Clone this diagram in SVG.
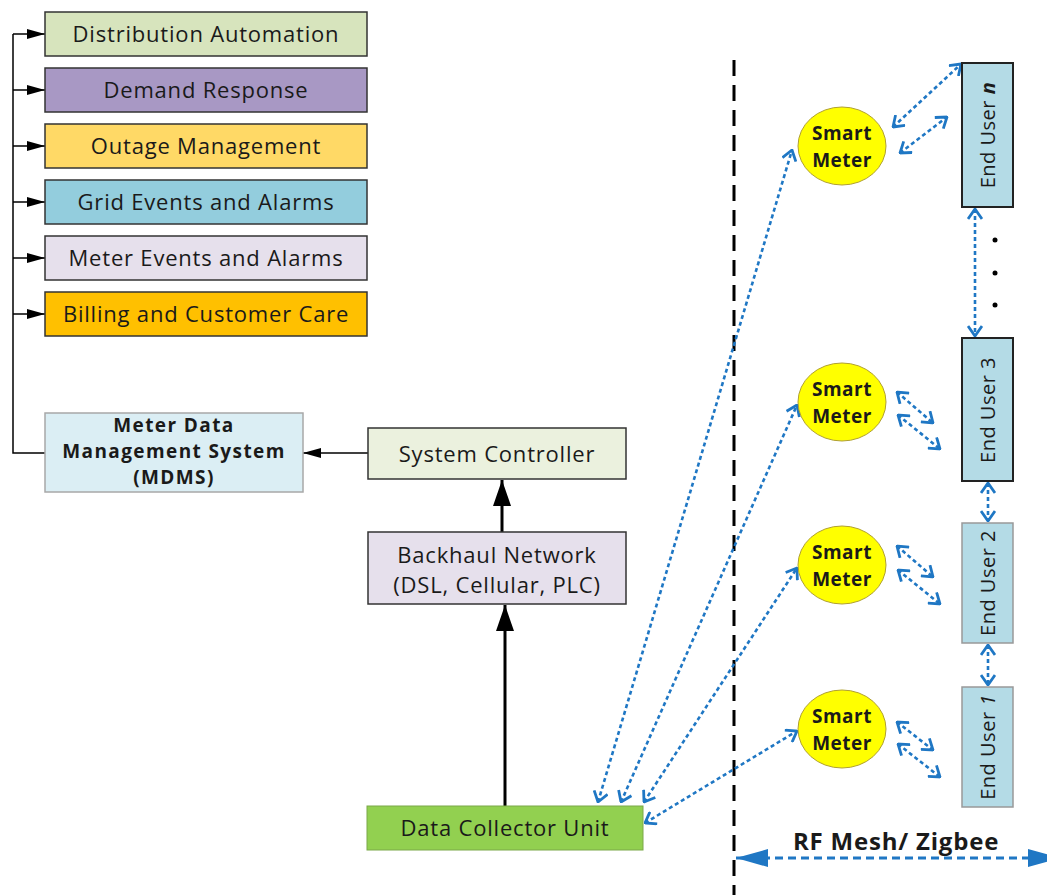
<svg xmlns="http://www.w3.org/2000/svg" width="1047" height="895" viewBox="0 0 1047 895">
<style>
text{font-family:"Open Sans","Liberation Sans",sans-serif;fill:#1a1a1a}
.lbl{font-size:22px;letter-spacing:0.8px;text-anchor:middle}
.mdt{font-size:19px;font-weight:bold;letter-spacing:1.4px;text-anchor:middle}
.smt{font-size:19px;font-weight:bold;letter-spacing:0.5px;text-anchor:middle}
.eut{font-size:20px;letter-spacing:0.5px;text-anchor:middle}
.bold{font-weight:bold}
.box{stroke:#333;stroke-width:1.5}
.conn{fill:none;stroke:#000;stroke-width:1.5}
.thick{fill:none;stroke:#000;stroke-width:3}
.rf{fill:none;stroke:#1f77c4;stroke-width:2.6;stroke-dasharray:4 3}
.sm{fill:#ffff00;stroke:#b0a030;stroke-width:1}
.eu{fill:#b4dbe6}
</style>
<defs>
<marker id="tri" viewBox="0 0 18 10" refX="18" refY="5" markerWidth="18" markerHeight="10" markerUnits="userSpaceOnUse" orient="auto">
<path d="M0,0 L18,5 L0,10 z" fill="#000"/>
</marker>
<marker id="tri2" viewBox="0 0 26 18" refX="26" refY="9" markerWidth="26" markerHeight="18" markerUnits="userSpaceOnUse" orient="auto">
<path d="M0,0 L26,9 L0,18 z" fill="#000"/>
</marker>
<marker id="chev" viewBox="0 0 12 16" refX="11" refY="8" markerWidth="12" markerHeight="16" markerUnits="userSpaceOnUse" orient="auto-start-reverse">
<path d="M1,1 L11,8 L1,15" fill="none" stroke="#1f77c4" stroke-width="2.8" stroke-dasharray="none"/>
</marker>
<marker id="btri" viewBox="0 0 32 18" refX="32" refY="9" markerWidth="32" markerHeight="18" markerUnits="userSpaceOnUse" orient="auto-start-reverse">
<path d="M0,0 L32,9 L0,18 z" fill="#1f77c4" stroke="none"/>
</marker>
</defs>

<g id="connectors">
<path class="conn" d="M45,453 H13 V34"/>
<line class="conn" x1="13" y1="34" x2="45" y2="34" marker-end="url(#tri)"/>
<line class="conn" x1="13" y1="90" x2="45" y2="90" marker-end="url(#tri)"/>
<line class="conn" x1="13" y1="146" x2="45" y2="146" marker-end="url(#tri)"/>
<line class="conn" x1="13" y1="202" x2="45" y2="202" marker-end="url(#tri)"/>
<line class="conn" x1="13" y1="258" x2="45" y2="258" marker-end="url(#tri)"/>
<line class="conn" x1="13" y1="314" x2="45" y2="314" marker-end="url(#tri)"/>
<line class="conn" x1="368" y1="453" x2="303" y2="453" marker-end="url(#tri)"/>
<line class="thick" x1="502" y1="532" x2="502" y2="480" marker-end="url(#tri2)"/>
<line class="thick" x1="505" y1="806" x2="505" y2="605" marker-end="url(#tri2)"/>
<line x1="734" y1="60" x2="734" y2="895" stroke="#000" stroke-width="3" stroke-dasharray="16 9"/>
<line class="rf" x1="598" y1="802" x2="792" y2="150" marker-start="url(#chev)" marker-end="url(#chev)"/>
<line class="rf" x1="621" y1="802" x2="797" y2="405" marker-start="url(#chev)" marker-end="url(#chev)"/>
<line class="rf" x1="644" y1="802" x2="797" y2="568" marker-start="url(#chev)" marker-end="url(#chev)"/>
<line class="rf" x1="645" y1="823" x2="797" y2="731" marker-start="url(#chev)" marker-end="url(#chev)"/>
<line class="rf" x1="893" y1="127" x2="961" y2="64" marker-start="url(#chev)" marker-end="url(#chev)"/>
<line class="rf" x1="900" y1="153" x2="947" y2="117" marker-start="url(#chev)" marker-end="url(#chev)"/>
<line class="rf" x1="897" y1="392" x2="933" y2="423" marker-start="url(#chev)" marker-end="url(#chev)"/>
<line class="rf" x1="898" y1="415" x2="940" y2="449" marker-start="url(#chev)" marker-end="url(#chev)"/>
<line class="rf" x1="897" y1="546" x2="933" y2="577" marker-start="url(#chev)" marker-end="url(#chev)"/>
<line class="rf" x1="898" y1="570" x2="940" y2="604" marker-start="url(#chev)" marker-end="url(#chev)"/>
<line class="rf" x1="897" y1="722" x2="933" y2="750" marker-start="url(#chev)" marker-end="url(#chev)"/>
<line class="rf" x1="898" y1="744" x2="940" y2="777" marker-start="url(#chev)" marker-end="url(#chev)"/>
<line class="rf" x1="975" y1="209" x2="975" y2="336" marker-start="url(#chev)" marker-end="url(#chev)"/>
<line class="rf" x1="988" y1="483" x2="988" y2="521" marker-start="url(#chev)" marker-end="url(#chev)"/>
<line class="rf" x1="988" y1="645" x2="988" y2="685" marker-start="url(#chev)" marker-end="url(#chev)"/>
<line x1="736" y1="858" x2="1060" y2="858" stroke="#1f77c4" stroke-width="3" stroke-dasharray="8 5" marker-start="url(#btri)" marker-end="url(#btri)"/>
</g>

<g id="distribution-automation"><rect class="box" x="45" y="12" width="322" height="44" fill="#d7e4bd"/><text class="lbl" x="206" y="42">Distribution Automation</text></g>
<g id="demand-response"><rect class="box" x="45" y="68" width="322" height="44" fill="#a898c4"/><text class="lbl" x="206" y="98">Demand Response</text></g>
<g id="outage-management"><rect class="box" x="45" y="124" width="322" height="44" fill="#ffd966"/><text class="lbl" x="206" y="154">Outage Management</text></g>
<g id="grid-events"><rect class="box" x="45" y="180" width="322" height="44" fill="#93cddd"/><text class="lbl" x="206" y="210">Grid Events and Alarms</text></g>
<g id="meter-events"><rect class="box" x="45" y="236" width="322" height="44" fill="#e6e0ec"/><text class="lbl" x="206" y="266">Meter Events and Alarms</text></g>
<g id="billing"><rect class="box" x="45" y="292" width="322" height="44" fill="#ffc000"/><text class="lbl" x="206" y="322">Billing and Customer Care</text></g>

<g id="mdms"><rect x="45" y="413" width="258" height="79" fill="#dbeef4" stroke="#a8a8a8" stroke-width="1.5"/>
<text class="mdt" x="174" y="432">Meter Data</text>
<text class="mdt" x="174" y="458">Management System</text>
<text class="mdt" x="174" y="484">(MDMS)</text></g>

<g id="system-controller"><rect class="box" x="368" y="428" width="258" height="51" fill="#ebf1de"/><text class="lbl" x="497" y="462">System Controller</text></g>
<g id="backhaul"><rect class="box" x="368" y="532" width="258" height="72" fill="#e6e0ec"/><text class="lbl" x="497" y="563">Backhaul Network</text><text class="lbl" x="497" y="593">(DSL, Cellular, PLC)</text></g>
<g id="data-collector"><rect x="367" y="806" width="276" height="44" fill="#92d050" stroke="#7aa848" stroke-width="1"/><text class="lbl" x="505" y="836">Data Collector Unit</text></g>

<g id="smart-meter-n"><ellipse class="sm" cx="842" cy="146" rx="44" ry="39"/><text class="smt" x="842" y="140">Smart</text><text class="smt" x="842" y="167">Meter</text></g>
<g id="smart-meter-3"><ellipse class="sm" cx="842" cy="402" rx="44" ry="39"/><text class="smt" x="842" y="396">Smart</text><text class="smt" x="842" y="423">Meter</text></g>
<g id="smart-meter-2"><ellipse class="sm" cx="842" cy="565" rx="44" ry="39"/><text class="smt" x="842" y="559">Smart</text><text class="smt" x="842" y="586">Meter</text></g>
<g id="smart-meter-1"><ellipse class="sm" cx="842" cy="729" rx="44" ry="39"/><text class="smt" x="842" y="723">Smart</text><text class="smt" x="842" y="750">Meter</text></g>

<g id="end-user-n"><rect class="eu" x="962" y="63" width="51" height="144" stroke="#222" stroke-width="2"/><text class="eut" transform="translate(995,135) rotate(-90)">End User <tspan font-weight="bold" font-style="italic">n</tspan></text></g>
<g id="end-user-3"><rect class="eu" x="962" y="338" width="51" height="143" stroke="#222" stroke-width="2"/><text class="eut" transform="translate(995,410) rotate(-90)">End User 3</text></g>
<g id="end-user-2"><rect class="eu" x="962" y="523" width="51" height="120" stroke="#999" stroke-width="1.5"/><text class="eut" transform="translate(995,583) rotate(-90)">End User 2</text></g>
<g id="end-user-1"><rect class="eu" x="962" y="687" width="51" height="120" stroke="#999" stroke-width="1.5"/><text class="eut" transform="translate(995,747) rotate(-90)">End User <tspan font-style="italic">1</tspan></text></g>

<g id="ellipsis-dots" fill="#000"><circle cx="995" cy="240" r="2.5"/><circle cx="995" cy="273" r="2.5"/><circle cx="995" cy="305" r="2.5"/></g>

<g id="rf-label"><text class="bold" x="896" y="850" text-anchor="middle" style="font-size:24px;letter-spacing:0.8px">RF Mesh/ Zigbee</text></g>
</svg>
